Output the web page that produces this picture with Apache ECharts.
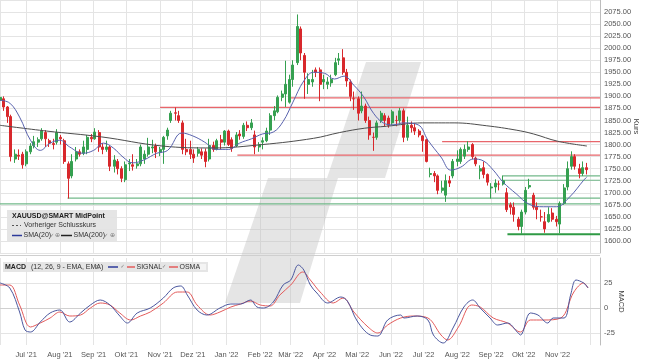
<!DOCTYPE html>
<html><head><meta charset="utf-8">
<script src="https://cdn.jsdelivr.net/npm/echarts@6/dist/echarts.min.js"></script>
<style>html,body{margin:0;padding:0;background:#fff}#c{width:645px;height:363px}</style>
</head><body><div id="c"></div><script>
// [date, open, close, low, high]
const candles = [
['2021-06-07',1892,1898,1885,1903],['2021-06-10',1895,1878,1870,1900],['2021-06-14',1878,1858,1845,1880],
['2021-06-17',1858,1775,1765,1862],['2021-06-21',1770,1780,1762,1790],['2021-06-24',1778,1776,1768,1790],
['2021-06-28',1780,1758,1750,1785],['2021-07-01',1760,1785,1755,1790],['2021-07-05',1785,1797,1780,1803],
['2021-07-08',1798,1806,1792,1818],['2021-07-12',1805,1810,1795,1815],['2021-07-15',1812,1828,1808,1834],
['2021-07-19',1825,1812,1795,1830],['2021-07-22',1808,1803,1795,1812],['2021-07-26',1802,1800,1790,1812],
['2021-07-29',1805,1825,1800,1832],['2021-08-02',1815,1812,1800,1820],['2021-08-05',1808,1765,1760,1812],
['2021-08-09',1760,1730,1688,1765],['2021-08-12',1735,1765,1730,1780],['2021-08-16',1770,1785,1765,1795],
['2021-08-19',1785,1780,1775,1790],['2021-08-23',1782,1795,1778,1808],['2021-08-26',1790,1815,1780,1820],
['2021-08-30',1815,1812,1805,1822],['2021-09-02',1812,1826,1810,1834],['2021-09-06',1825,1795,1785,1830],
['2021-09-09',1795,1790,1780,1803],['2021-09-13',1790,1795,1785,1808],['2021-09-16',1795,1755,1745,1798],
['2021-09-20',1755,1768,1742,1778],['2021-09-23',1765,1750,1738,1770],['2021-09-27',1750,1730,1722,1755],
['2021-09-30',1727,1758,1722,1765],['2021-10-04',1760,1762,1745,1770],['2021-10-07',1758,1755,1746,1780],
['2021-10-11',1756,1760,1750,1770],['2021-10-14',1760,1795,1755,1800],['2021-10-18',1770,1780,1760,1788],
['2021-10-21',1780,1795,1775,1814],['2021-10-25',1793,1795,1782,1810],['2021-10-28',1797,1785,1772,1802],
['2021-11-01',1784,1790,1776,1795],['2021-11-04',1790,1815,1760,1818],['2021-11-08',1818,1830,1810,1835],
['2021-11-11',1850,1865,1845,1870],['2021-11-15',1866,1865,1850,1877],['2021-11-18',1860,1850,1845,1870],
['2021-11-22',1845,1790,1780,1850],['2021-11-25',1790,1785,1778,1812],['2021-11-29',1790,1780,1770,1808],
['2021-12-02',1780,1772,1762,1790],['2021-12-06',1782,1790,1775,1795],['2021-12-09',1785,1778,1770,1792],
['2021-12-13',1785,1765,1753,1792],['2021-12-16',1770,1798,1765,1812],['2021-12-20',1798,1790,1785,1806],
['2021-12-23',1790,1808,1788,1812],['2021-12-27',1810,1805,1790,1820],['2021-12-30',1805,1828,1798,1830],
['2022-01-03',1828,1800,1797,1831],['2022-01-06',1810,1792,1785,1815],['2022-01-10',1797,1820,1795,1826],
['2022-01-13',1822,1818,1810,1830],['2022-01-17',1817,1840,1812,1845],['2022-01-20',1840,1835,1828,1848],
['2022-01-24',1835,1845,1830,1853],['2022-01-27',1820,1795,1780,1829],['2022-01-31',1795,1800,1785,1805],
['2022-02-03',1805,1808,1790,1815],['2022-02-07',1808,1828,1805,1835],['2022-02-10',1830,1860,1820,1865],
['2022-02-14',1860,1870,1850,1880],['2022-02-17',1868,1898,1865,1902],['2022-02-21',1898,1905,1890,1912],
['2022-02-24',1905,1925,1878,1974],['2022-02-28',1888,1935,1885,1945],['2022-03-03',1935,1965,1920,1975],
['2022-03-07',1970,2045,1965,2070],['2022-03-10',2040,1990,1975,2045],['2022-03-14',1985,1950,1895,1990],
['2022-03-17',1925,1935,1905,1948],['2022-03-21',1930,1935,1920,1955],['2022-03-24',1955,1950,1940,1960],
['2022-03-28',1955,1925,1890,1960],['2022-03-31',1930,1935,1915,1945],['2022-04-04',1925,1930,1915,1940],
['2022-04-07',1928,1935,1920,1945],['2022-04-11',1945,1970,1942,1980],['2022-04-14',1975,1978,1965,1990],
['2022-04-18',1980,1950,1945,1998],['2022-04-21',1950,1932,1920,1957],['2022-04-25',1930,1900,1890,1935],
['2022-04-28',1895,1895,1872,1910],['2022-05-02',1895,1865,1850,1900],['2022-05-05',1870,1880,1865,1910],
['2022-05-09',1880,1850,1845,1885],['2022-05-12',1850,1820,1810,1858],['2022-05-16',1815,1815,1787,1825],
['2022-05-19',1815,1845,1810,1850],['2022-05-23',1850,1865,1845,1870],['2022-05-26',1860,1850,1838,1865],
['2022-05-30',1855,1840,1835,1860],['2022-06-02',1845,1868,1840,1872],['2022-06-06',1850,1850,1838,1860],
['2022-06-09',1850,1870,1845,1876],['2022-06-13',1870,1815,1805,1875],['2022-06-16',1815,1840,1808,1858],
['2022-06-20',1840,1835,1825,1848],['2022-06-23',1835,1828,1820,1845],['2022-06-27',1828,1820,1815,1832],
['2022-06-30',1818,1808,1785,1820],['2022-07-04',1810,1765,1763,1812],['2022-07-07',1738,1740,1732,1752],
['2022-07-11',1740,1735,1722,1745],['2022-07-14',1735,1705,1697,1738],['2022-07-18',1705,1710,1700,1725],
['2022-07-21',1695,1725,1681,1738],['2022-07-25',1725,1720,1712,1735],['2022-07-28',1735,1765,1730,1770],
['2022-08-01',1765,1770,1755,1788],['2022-08-04',1765,1790,1760,1794],['2022-08-08',1776,1790,1770,1800],
['2022-08-11',1790,1795,1785,1807],['2022-08-15',1800,1775,1770,1803],['2022-08-18',1772,1760,1755,1775],
['2022-08-22',1745,1750,1728,1757],['2022-08-25',1752,1738,1730,1765],['2022-08-29',1738,1722,1715,1740],
['2022-09-01',1710,1712,1688,1720],['2022-09-05',1712,1720,1700,1728],['2022-09-08',1718,1718,1705,1725],
['2022-09-12',1718,1725,1715,1735],['2022-09-15',1700,1665,1660,1710],['2022-09-19',1675,1670,1655,1680],
['2022-09-22',1670,1655,1640,1680],['2022-09-26',1645,1630,1622,1650],['2022-09-29',1630,1660,1615,1665],
['2022-10-03',1660,1705,1655,1712],['2022-10-06',1712,1715,1708,1729],['2022-10-10',1695,1670,1665,1700],
['2022-10-13',1670,1665,1645,1680],['2022-10-17',1650,1650,1640,1665],['2022-10-20',1640,1625,1617,1660],
['2022-10-24',1640,1655,1638,1670],['2022-10-27',1658,1645,1640,1668],['2022-10-31',1645,1640,1630,1652],
['2022-11-03',1635,1678,1616,1682],['2022-11-07',1678,1710,1675,1718],['2022-11-10',1712,1750,1705,1765],
['2022-11-14',1755,1775,1748,1786],['2022-11-17',1775,1755,1748,1780],['2022-11-21',1750,1740,1730,1760],
['2022-11-24',1740,1752,1735,1765],['2022-11-28',1752,1748,1738,1762]
];
const sma20 = [
['2021-06-07',1892],['2021-06-16',1886],['2021-06-25',1857],['2021-07-05',1809],['2021-07-14',1788],
['2021-07-23',1803],['2021-08-01',1809],['2021-08-10',1795],['2021-08-22',1782],['2021-09-01',1788],
['2021-09-10',1803],['2021-09-19',1793],['2021-09-28',1774],['2021-10-07',1762],['2021-10-17',1768],
['2021-10-29',1782],['2021-11-08',1788],['2021-11-21',1824],['2021-12-01',1818],['2021-12-12',1805],
['2021-12-22',1790],['2022-01-03',1790],['2022-01-13',1803],['2022-01-24',1812],['2022-02-03',1822],
['2022-02-13',1826],['2022-02-22',1848],['2022-03-03',1888],['2022-03-13',1932],['2022-03-22',1950],
['2022-04-01',1948],['2022-04-10',1936],['2022-04-19',1942],['2022-04-28',1923],['2022-05-07',1899],
['2022-05-16',1865],['2022-05-25',1845],['2022-06-03',1841],['2022-06-13',1845],['2022-06-26',1841],
['2022-07-05',1809],['2022-07-17',1774],['2022-07-26',1747],['2022-08-04',1753],['2022-08-16',1770],
['2022-08-25',1766],['2022-09-03',1747],['2022-09-12',1722],['2022-09-24',1698],['2022-10-06',1676],
['2022-10-19',1671],['2022-10-31',1671],['2022-11-12',1691],['2022-11-25',1726],['2022-11-28',1733]
];
const sma200 = [
['2021-06-07',1840],['2021-07-20',1828],['2021-09-08',1816],['2021-11-03',1797],['2021-12-19',1793],
['2022-02-03',1800],['2022-03-22',1813],['2022-04-15',1825],['2022-05-08',1834],['2022-05-28',1838],
['2022-06-30',1845],['2022-07-29',1845],['2022-08-28',1839],['2022-09-24',1830],['2022-10-10',1822],
['2022-11-01',1807],['2022-11-28',1797]
];
const macd = [
['2021-06-07',25],['2021-06-16',20],['2021-06-25',-4],['2021-06-30',-22],['2021-07-05',-24],['2021-07-14',-14],
['2021-07-23',-5],['2021-08-01',-2],['2021-08-10',-14],['2021-08-20',-5],['2021-08-29',3],['2021-09-07',8],
['2021-09-16',3],['2021-09-25',-8],['2021-10-02',-15],['2021-10-11',-5],['2021-10-23',0],['2021-11-04',10],
['2021-11-13',20],['2021-11-20',22],['2021-11-26',13],['2021-12-05',-2],['2021-12-14',-7],['2021-12-26',0],
['2022-01-05',4],['2022-01-14',4],['2022-01-23',8],['2022-01-29',1],['2022-02-04',0],['2022-02-13',6],
['2022-02-22',23],['2022-03-01',28],['2022-03-08',43],['2022-03-13',38],['2022-03-19',23],['2022-03-25',15],
['2022-04-04',5],['2022-04-16',11],['2022-04-22',7],['2022-05-01',-13],['2022-05-13',-27],['2022-05-20',-28],
['2022-05-29',-12],['2022-06-10',-7],['2022-06-13',-10],['2022-06-25',-8],['2022-07-05',-12],['2022-07-10',-27],
['2022-07-19',-35],['2022-07-28',-20],['2022-08-07',1],['2022-08-15',8],['2022-08-22',0],['2022-08-31',-10],
['2022-09-07',-17],['2022-09-16',-15],['2022-09-25',-24],['2022-09-28',-27],['2022-10-07',-5],['2022-10-14',-7],
['2022-10-23',-15],['2022-10-28',-10],['2022-11-07',-10],['2022-11-13',13],['2022-11-18',28],['2022-11-25',25],
['2022-11-29',20]
];
const signal = [
['2021-06-07',23],['2021-06-16',23],['2021-06-25',3],['2021-07-05',-19],['2021-07-14',-15],['2021-07-23',-10],
['2021-08-01',-4],['2021-08-10',-8],['2021-08-20',-7],['2021-08-29',0],['2021-09-07',5],['2021-09-16',3],
['2021-09-25',-5],['2021-10-05',-12],['2021-10-14',-8],['2021-10-23',-4],['2021-11-04',5],['2021-11-17',16],
['2021-11-26',16],['2021-12-05',3],['2021-12-17',-7],['2021-12-26',-4],['2022-01-05',1],['2022-01-14',4],
['2022-01-23',7],['2022-02-01',3],['2022-02-10',2],['2022-02-19',13],['2022-03-01',23],['2022-03-12',36],
['2022-03-19',28],['2022-03-28',16],['2022-04-09',5],['2022-04-18',10],['2022-04-28',-4],['2022-05-11',-19],
['2022-05-20',-25],['2022-05-29',-17],['2022-06-10',-10],['2022-06-22',-8],['2022-07-05',-10],['2022-07-17',-27],
['2022-07-23',-32],['2022-08-02',-19],['2022-08-14',3],['2022-08-22',1],['2022-09-03',-10],['2022-09-16',-15],
['2022-09-28',-24],['2022-10-07',-12],['2022-10-19',-12],['2022-11-04',-10],['2022-11-16',16],['2022-11-25',25],
['2022-11-29',20]
];
// horizontal levels: [start date, price, kind]
const levels = [
['2022-03-01',1897,'res'],['2021-11-01',1877,'res'],['2022-07-18',1806,'res'],['2022-01-11',1778,'res'],
['2022-09-11',1735,'sup'],['2022-09-11',1726,'sup'],['2021-08-08',1689,'sup'],['2021-06-07',1677,'sup'],
['2022-09-16',1614,'strong']
];
const monthNames = ['Jan','Feb','Mär','Apr','Mai','Jun','Jul','Aug','Sep','Okt','Nov','Dez'];
const X_MIN = '2021-06-07', X_MAX = '2022-12-10', LAST_LABEL = '2022-11-01';
const PRICE_MIN = 1575, PRICE_MAX = 2100, PRICE_STEP = 25;
const MACD_MIN = -37, MACD_MAX = 50, macdTicks = [-25, 0, 25];

const FONT = '"Liberation Sans", Arial, sans-serif';
const UP = '#35a050', DOWN = '#d8282c';
const levelColor = {res: '#e8666b', sup: '#72b98a', strong: '#2f9a45'};
const levelWidth = {res: 1.3, sup: 1.2, strong: 2};
const gridColor = '#e4e4e4';
const DAY = 86400000;
const lastLabelTs = new Date(LAST_LABEL + 'T00:00:00').getTime();

const chart = echarts.init(document.getElementById('c'), null, {renderer: 'canvas'});

const series = [
  {
    type: 'candlestick', xAxisIndex: 0, yAxisIndex: 0, barWidth: 2.5,
    data: candles.map(c => [c[0], c[1], c[2], c[3], c[4]]),
    itemStyle: {color: UP, color0: DOWN, borderColor: UP, borderColor0: DOWN, borderWidth: 1},
    z: 4, silent: true
  },
  {type: 'line', xAxisIndex: 0, yAxisIndex: 0, data: sma200, smooth: 0.4, symbol: 'none',
   lineStyle: {color: '#4d4d4d', width: 1}, z: 5, silent: true},
  {type: 'line', xAxisIndex: 0, yAxisIndex: 0, data: sma20, smooth: 0.4, symbol: 'none',
   lineStyle: {color: '#5862ad', width: 1}, z: 5, silent: true},
  {type: 'line', xAxisIndex: 1, yAxisIndex: 1, data: signal, smooth: 0.35, symbol: 'none',
   lineStyle: {color: '#e35b5b', width: 1}, z: 4, silent: true},
  {type: 'line', xAxisIndex: 1, yAxisIndex: 1, data: macd, smooth: 0.35, symbol: 'none',
   lineStyle: {color: '#4b579e', width: 1}, z: 5, silent: true}
];
levels.forEach(l => {
  series.push({type: 'line', xAxisIndex: 0, yAxisIndex: 0, symbol: 'none', silent: true, z: 3,
    color: levelColor[l[2]],
    data: [[l[0], l[1]], [X_MAX, l[1]]],
    itemStyle: {color: levelColor[l[2]]},
    lineStyle: {color: levelColor[l[2]], width: levelWidth[l[2]]}});
});

function monthLabel(v) {
  const d = new Date(v);
  if (d.getDate() !== 1 || v > lastLabelTs) return '';
  return monthNames[d.getMonth()] + " '" + String(d.getFullYear()).slice(2);
}

const xCommon = {
  type: 'time', min: X_MIN, max: X_MAX, splitNumber: 18,
  minInterval: 28 * DAY, maxInterval: 31 * DAY,
  splitLine: {show: true, lineStyle: {color: gridColor, width: 1}},
  axisTick: {show: false}
};

const sty = (x, y, text, font, fill) => ({x, y, text, font, fill, verticalAlign: 'middle', textVerticalAlign: 'middle'});
const T = (x, y, text) => ({type: 'text', z: 101, silent: true, style: sty(x, y, text, '7px ' + FONT, '#333')});
const B = (x, y, text) => ({type: 'text', z: 101, silent: true, style: sty(x, y, text, 'bold 7px ' + FONT, '#222')});
const I = (x, y, text, size) => ({type: 'text', z: 101, silent: true, style: sty(x, y, text, size + 'px "DejaVu Sans"', '#7a7a7a')});
const L = (x1, x2, y, color, w, dash) => ({type: 'line', z: 101, silent: true,
  shape: {x1, y1: y, x2, y2: y}, style: {stroke: color, lineWidth: w || 1.5, lineDash: dash || null}});

const graphic = [
  {type: 'polygon', z: 1, silent: true,
   shape: {points: [[366,62],[421,62],[385,178],[338,178],[300,303],[225,303],[268,178],[327,178]]},
   style: {fill: 'rgba(190,190,190,0.40)'}},
  {type: 'line', z: 2, silent: true, shape: {x1: 0, y1: 255.5, x2: 600, y2: 255.5}, style: {stroke: '#cfcfcf', lineWidth: 1}},
  {type: 'rect', z: 100, silent: true, shape: {x: 7, y: 210, width: 110, height: 31}, style: {fill: 'rgba(226,226,226,0.9)'}},
  B(12, 216, 'XAUUSD@SMART MidPoint'),
  I(94, 216, '⊕', 6),
  L(12, 21, 225.5, '#555', 1, [2, 2]),
  T(24, 225.5, 'Vorheriger Schlusskurs'),
  L(12, 22, 235.5, '#2c3a9a', 1.5),
  T(23.5, 235.5, 'SMA(20)'),
  I(50, 235.5, '✓', 5),
  I(55, 235.5, '⊕', 6),
  L(61, 72, 235.5, '#222', 1.5),
  T(73.5, 235.5, 'SMA(200)'),
  I(104, 235.5, '✓', 5),
  I(110, 235.5, '⊕', 6),
  {type: 'rect', z: 100, silent: true, shape: {x: 3, y: 262, width: 205, height: 10}, style: {fill: 'rgba(226,226,226,0.9)'}},
  B(5, 267, 'MACD'),
  T(31, 267, '(12, 26, 9 - EMA, EMA)'),
  I(95, 267, '⊕', 6),
  L(108, 118, 267, '#2c3a9a', 1.5),
  I(120.5, 267, '✓', 5),
  L(127, 135, 267, '#e35b5b', 1.5),
  T(136.5, 267, 'SIGNAL'),
  I(162, 267, '✓', 5),
  L(169, 178, 267, '#e35b5b', 1.5),
  T(179.5, 267, 'OSMA'),
  {type: 'rect', z: 101, silent: true, shape: {x: 200, y: 264, width: 6, height: 6}, style: {fill: '#f4f4f4'}}
];

chart.setOption({
  animation: false,
  backgroundColor: '#fff',
  textStyle: {fontFamily: FONT},
  grid: [
    {left: 0, top: 0, width: 600, height: 253, containLabel: false, outerBoundsMode: 'none'},
    {left: 0, top: 258, width: 600, height: 87, containLabel: false, outerBoundsMode: 'none'}
  ],
  xAxis: [
    Object.assign({}, xCommon, {gridIndex: 0, axisLine: {show: false}, axisLabel: {show: false}}),
    Object.assign({}, xCommon, {gridIndex: 1,
      axisLine: {show: true, lineStyle: {color: '#d0d0d0'}},
      axisLabel: {show: true, formatter: monthLabel, color: '#555', fontSize: 7.5, margin: 6, hideOverlap: false, showMinLabel: true, showMaxLabel: true}})
  ],
  yAxis: [
    {type: 'value', gridIndex: 0, position: 'right', min: PRICE_MIN, max: PRICE_MAX, interval: PRICE_STEP,
     axisLine: {show: true, lineStyle: {color: '#bdbdbd'}}, axisTick: {show: false},
     splitLine: {show: true, lineStyle: {color: gridColor}},
     axisLabel: {formatter: v => v.toFixed(2), color: '#555', fontSize: 7.5, margin: 4, showMinLabel: false, showMaxLabel: false},
     name: 'Kurs', nameLocation: 'middle', nameRotate: -90, nameGap: 32, nameMoveOverlap: false,
     nameTextStyle: {color: '#444', fontSize: 7.5}},
    {type: 'value', gridIndex: 1, position: 'right', min: MACD_MIN, max: MACD_MAX,
     axisLine: {show: true, lineStyle: {color: '#bdbdbd'}},
     axisTick: {show: false, customValues: macdTicks},
     splitLine: {show: true, lineStyle: {color: gridColor}},
     axisLabel: {customValues: macdTicks, color: '#555', fontSize: 7.5, margin: 4},
     name: 'MACD', nameLocation: 'middle', nameRotate: -90, nameGap: 17, nameMoveOverlap: false,
     nameTextStyle: {color: '#444', fontSize: 7.5}}
  ],
  graphic: graphic,
  series: series
});
</script></body></html>
